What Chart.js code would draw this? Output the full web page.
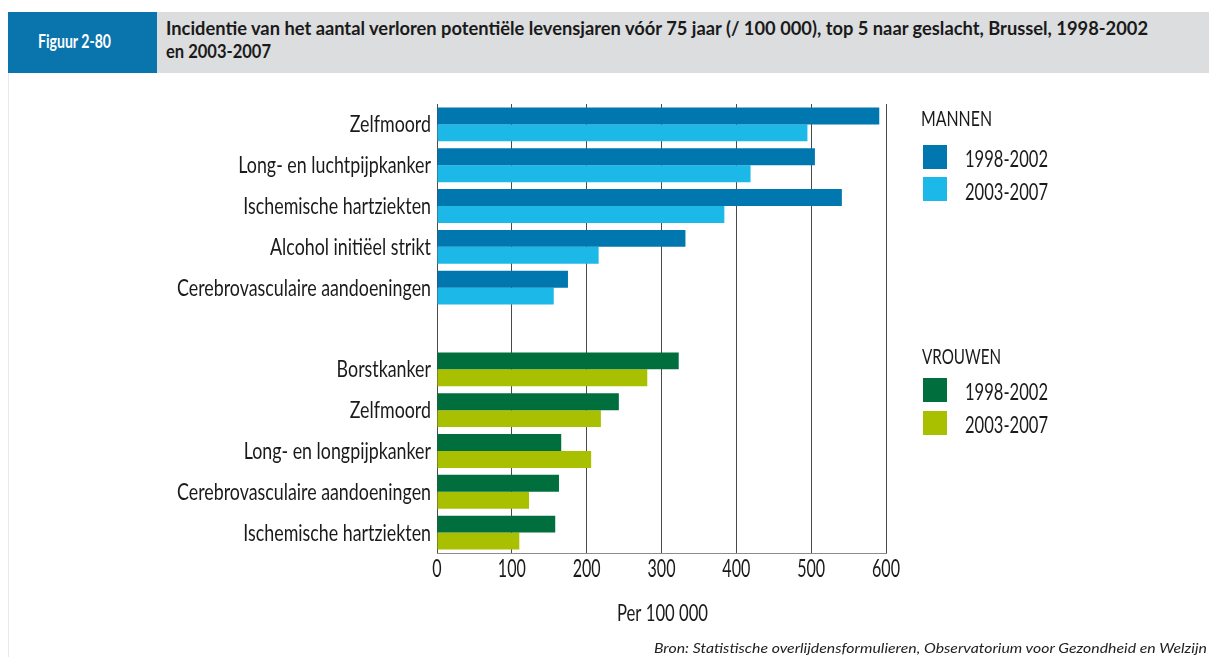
<!DOCTYPE html>
<html>
<head>
<meta charset="utf-8">
<script src="https://cdn.jsdelivr.net/npm/chart.js@4.4.0/dist/chart.umd.min.js"></script>
<style>
  body { margin: 0; width: 1209px; height: 657px; overflow: hidden; background: #fff; position: relative;
         font-family: Lato, sans-serif; color: #1a1a1a; }
  .band { position: absolute; left: 8px; top: 12px; width: 1201px; height: 61px; background: #dcddde; }
  .fig { position: absolute; left: 8px; top: 12px; width: 149px; height: 61px; background: #0a74ad; }
  .t { position: absolute; white-space: nowrap; display: inline-block; transform-origin: 0 0; }
  .b { font-weight: bold; font-size: 19px; line-height: 22.8px; }
  .edge { position: absolute; left: 8px; top: 73px; width: 1px; height: 584px; background: #e8e8e8; }
  #box { position: absolute; left: 0; top: 0; width: 1209px; height: 657px; }
  .sw { position: absolute; width: 24px; height: 24px; }
  .lh { font-size: 21px; line-height: 25.2px; }
  .ly { font-size: 24px; line-height: 28.8px; }
  .src { font-style: italic; font-size: 14px; line-height: 16.8px; color: #222; }
</style>
</head>
<body>
<div class="band"></div>
<div class="fig"></div>
<div class="t b" data-w="73" style="left:38px;top:30px;color:#fff">Figuur 2-80</div>
<div class="t b" data-w="982" style="left:166px;top:17px">Incidentie van het aantal verloren potentiële levensjaren vóór 75 jaar (/ 100 000), top 5 naar geslacht, Brussel, 1998-2002</div>
<div class="t b" data-w="105" style="left:166px;top:39.5px">en 2003-2007</div>
<div class="edge"></div>
<div id="box"><canvas id="barChart"></canvas></div>

<div class="t lh" data-w="71" style="left:921px;top:105px">MANNEN</div>
<div class="sw" style="left:923px;top:145px;background:#0077ae"></div>
<div class="t ly" data-w="83" style="left:965px;top:144px">1998-2002</div>
<div class="sw" style="left:923px;top:177px;background:#1cb9e8"></div>
<div class="t ly" data-w="83" style="left:965px;top:177px">2003-2007</div>

<div class="t lh" data-w="79" style="left:922px;top:342.5px">VROUWEN</div>
<div class="sw" style="left:923px;top:378px;background:#006f3d"></div>
<div class="t ly" data-w="83" style="left:965px;top:377px">1998-2002</div>
<div class="sw" style="left:923px;top:411px;background:#a9c000"></div>
<div class="t ly" data-w="83" style="left:965px;top:410px">2003-2007</div>

<div class="t src" data-w="553" style="left:654px;top:639.5px">Bron: Statistische overlijdensformulieren, Observatorium voor Gezondheid en Welzijn</div>

<script>
const menCauses = ['Zelfmoord', 'Long- en luchtpijpkanker', 'Ischemische hartziekten', 'Alcohol initiëel strikt', 'Cerebrovasculaire aandoeningen'];
const womenCauses = ['Borstkanker', 'Zelfmoord', 'Long- en longpijpkanker', 'Cerebrovasculaire aandoeningen', 'Ischemische hartziekten'];
const men1998 = [591, 505, 541, 332, 175];
const men2003 = [495, 419, 384, 216, 156];
const women1998 = [323, 243, 166, 163, 158];
const women2003 = [281, 219, 206, 123, 110];
const xTicks = [0, 100, 200, 300, 400, 500, 600];
const xTitle = 'Per 100 000';

const colMen = ['#0077ae', '#1cb9e8'];
const colWomen = ['#006f3d', '#a9c000'];

// the original uses a condensed face: squeeze the html text to its width
document.querySelectorAll('[data-w]').forEach(el => {
    const w = el.getBoundingClientRect().width;
    el.style.transform = 'scaleX(' + (Number(el.dataset.w) / w) + ')';
});

// men block, one empty row as spacer, then women block
const labels = [...menCauses, '', ...womenCauses];
const d1 = [...men1998, null, ...women1998];
const d2 = [...men2003, null, ...women2003];
const c1 = labels.map((l, i) => i < 5 ? colMen[0] : colWomen[0]);
const c2 = labels.map((l, i) => i < 5 ? colMen[1] : colWomen[1]);

function squished(c, txt, x, y, align, sx) {
    c.save();
    c.translate(x, y);
    c.scale(sx, 1);
    c.textAlign = align;
    c.fillText(txt, 0, 0);
    c.restore();
}

const condensedLabels = {
    id: 'condensedLabels',
    afterDraw(chart) {
        const c = chart.ctx, xs = chart.scales.x, ys = chart.scales.y;
        c.save();
        c.fillStyle = '#1a1a1a';
        c.textBaseline = 'alphabetic';

        c.font = '22.5px Lato';
        const sy = 254 / c.measureText('Cerebrovasculaire aandoeningen').width;
        ys.ticks.forEach((t, i) => {
            const txt = ys.getLabelForValue(t.value);
            if (!txt) return;
            squished(c, txt, xs.left - 6, ys.getPixelForTick(i) + 8, 'right', sy);
        });

        c.font = '25px Lato';
        const sx = 28 / c.measureText('600').width;
        xs.ticks.forEach((t, i) => {
            squished(c, String(t.value), xs.getPixelForTick(i), xs.top + 23.5, 'center', sx);
        });

        c.font = '24px Lato';
        const st = 91 / c.measureText(xTitle).width;
        squished(c, xTitle, (xs.left + xs.right) / 2 + 1, xs.top + 68, 'center', st);
        c.restore();
    }
};

const ctx = document.getElementById('barChart').getContext('2d');

new Chart(ctx, {
    type: 'bar',
    plugins: [condensedLabels],
    data: {
        labels: labels,
        datasets: [
            { label: '1998-2002', data: d1, backgroundColor: c1, borderWidth: 0 },
            { label: '2003-2007', data: d2, backgroundColor: c2, borderWidth: 0 }
        ]
    },
    options: {
        indexAxis: 'y',
        responsive: true,
        maintainAspectRatio: false,
        animation: false,
        layout: { padding: { top: 104, right: 323, bottom: 0, left: 0 } },
        datasets: { bar: { barPercentage: 1, categoryPercentage: 0.83 } },
        plugins: { legend: { display: false }, tooltip: { enabled: false } },
        scales: {
            x: {
                min: 0,
                max: 600,
                afterFit: s => { s.height = 104; },
                afterBuildTicks: s => { s.ticks = xTicks.map(v => ({ value: v })); },
                grid: { color: '#4a4a4a', lineWidth: 1, drawTicks: false },
                border: { color: '#8c8c8c', width: 1 },
                ticks: { display: false }
            },
            y: {
                afterFit: s => { s.width = 437; },
                grid: { display: false },
                border: { display: false },
                ticks: { display: false }
            }
        }
    }
});
</script>
</body>
</html>
